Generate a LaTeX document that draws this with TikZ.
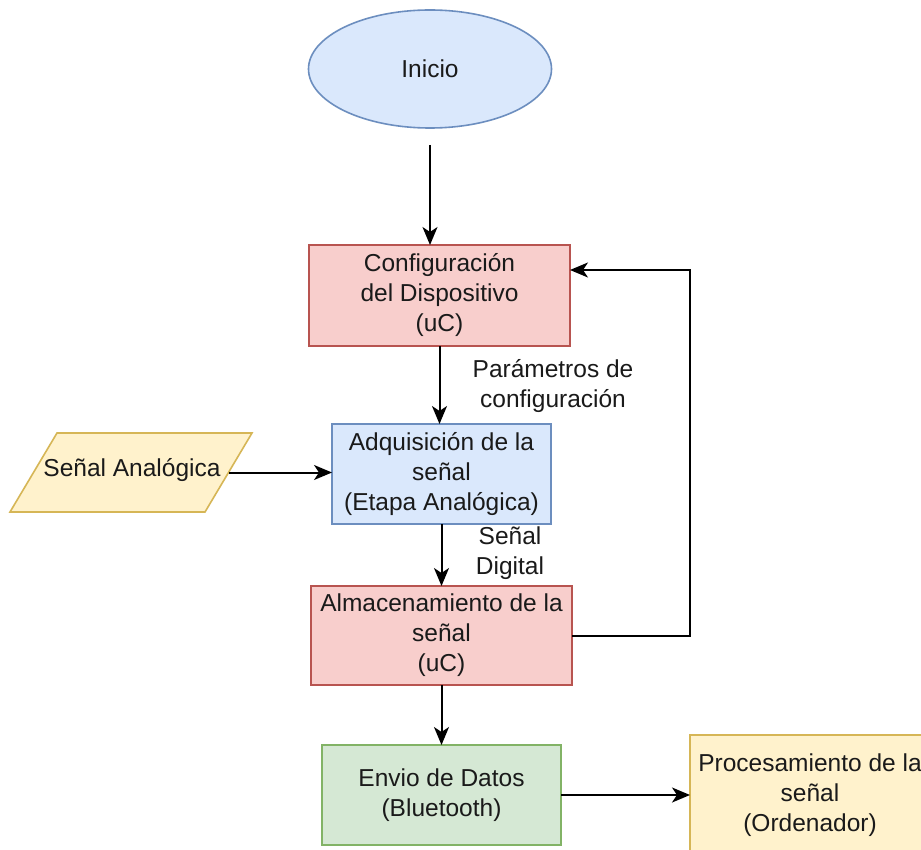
\documentclass[tikz,border=0pt]{standalone}
\usepackage{fontspec}
\setmainfont{Liberation Sans}
\usetikzlibrary{shapes.geometric,arrows.meta}
\definecolor{bluef}{HTML}{DAE8FC}\definecolor{blued}{HTML}{6C8EBF}
\definecolor{redf}{HTML}{F8CECC}\definecolor{redd}{HTML}{B85450}
\definecolor{greenf}{HTML}{D5E8D4}\definecolor{greend}{HTML}{82B366}
\definecolor{yelf}{HTML}{FFF2CC}\definecolor{yeld}{HTML}{D6B656}
\definecolor{txt}{HTML}{1A1A1A}
\tikzset{
  base/.style={draw, line width=1.6pt, align=center, inner sep=0pt, outer sep=0pt, text=txt},
  box/.style={base, rectangle},
  bluebox/.style={box, fill=bluef, draw=blued},
  redbox/.style={box, fill=redf, draw=redd},
  greenbox/.style={box, fill=greenf, draw=greend},
  yelbox/.style={box, fill=yelf, draw=yeld},
  lbl/.style={align=center, inner sep=0pt, text=txt},
  arr/.style={line width=2pt, -{Stealth[length=18pt,width=15pt,inset=5pt]}},
  ln/.style={line width=2pt}
}
\begin{document}
\begin{tikzpicture}[x=1pt,y=-1pt,font=\fontsize{24.5}{30}\selectfont]
\useasboundingbox (0,0) rectangle (921,850);
\fill[white] (0,0) rectangle (921,850);
\clip (0,0) rectangle (921,850);
\node[base, ellipse, fill=bluef, draw=blued, minimum width=243, minimum height=118] (ini) at (430,69) {Inicio};
\node[redbox, minimum width=261, minimum height=101] (cfg) at (439.5,295.5) {Configuración\\del Dispositivo\\(uC)};
\node[bluebox, minimum width=219, minimum height=100] (adq) at (441.5,474) {Adquisición de la\\señal\\(Etapa Analógica)};
\filldraw[fill=yelf, draw=yeld, line width=1.6pt] (57,433) -- (252,433) -- (205,512) -- (10,512) -- cycle;
\node[lbl] (sig) at (132,470) {Señal Analógica};
\coordinate (sigE) at (229,472.5);
\node[redbox, minimum width=261, minimum height=99] (alm) at (441.5,635.5) {Almacenamiento de la\\señal\\(uC)};
\node[greenbox, minimum width=239, minimum height=100] (env) at (441.5,795) {Envio de Datos\\(Bluetooth)};
\node[yelbox, minimum width=240, minimum height=120] (pro) at (810,795) {Procesamiento de la\\señal\\(Ordenador)};
\node[lbl] (l1) at (553,386) {Parámetros de\\configuración};
\node[lbl] (l2) at (510,553) {Señal\\Digital};
\coordinate (s0) at (430,145);
\coordinate (fb) at (690,270);
\draw[arr] (s0) -- (s0 |- cfg.north);
\draw[arr] (cfg.south) -- (cfg.south |- adq.north);
\draw[arr] (sigE) -- (sigE -| adq.west);
\draw[arr] (adq.south) -- (alm.north);
\draw[arr] (alm.south) -- (env.north);
\draw[arr] (env.east) -- (pro.west);
\draw[arr] (alm.east) -| (fb) -- (fb -| cfg.east);
\end{tikzpicture}
\end{document}
